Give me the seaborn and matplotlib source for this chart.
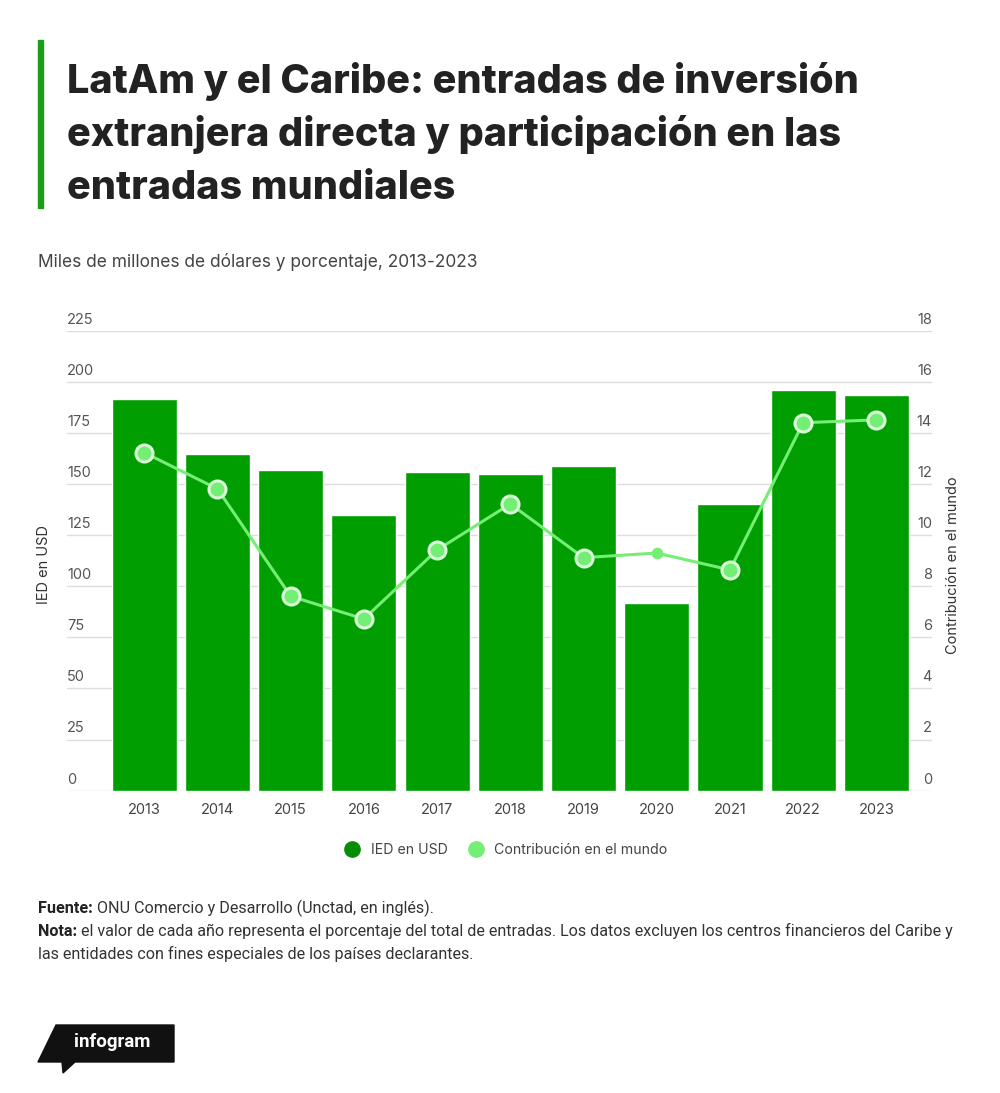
import matplotlib
matplotlib.use("Agg")
import matplotlib.pyplot as plt
import matplotlib.transforms as mtransforms
from matplotlib.patches import Polygon, Rectangle
from matplotlib.lines import Line2D
import seaborn as sns
import pandas as pd

# ---------------- data ----------------
years = ["2013", "2014", "2015", "2016", "2017", "2018", "2019", "2020", "2021", "2022", "2023"]
ied_usd = [191.6, 164.7, 156.7, 134.7, 156.1, 154.9, 158.7, 92.0, 140.3, 195.9, 193.4]
share_world = [13.23, 11.81, 7.61, 6.72, 9.42, 11.22, 9.12, 9.30, 8.64, 14.40, 14.51]
left_ticks = [0, 25, 50, 75, 100, 125, 150, 175, 200, 225]
right_ticks = [0, 2, 4, 6, 8, 10, 12, 14, 16, 18]
highlight_year = "2020"

title_lines = ["LatAm y el Caribe: entradas de inversión",
               "extranjera directa y participación en las",
               "entradas mundiales"]
subtitle = "Miles de millones de dólares y porcentaje, 2013-2023"
left_label = "IED en USD"
right_label = "Contribución en el mundo"
legend_labels = ["IED en USD", "Contribución en el mundo"]
source_bold = "Fuente:"
source_text = " ONU Comercio y Desarrollo (Unctad, en inglés)."
note_bold = "Nota:"
note_text1 = " el valor de cada año representa el porcentaje del total de entradas. Los datos excluyen los centros financieros del Caribe y"
note_text2 = "las entidades con fines especiales de los países declarantes."

# ---------------- style ----------------
BAR = "#009E00"
LINE = "#74EE74"
MEC = "#D9F9D9"
LEG_DARK = "#078C07"
GRID = "#DDDDDD"
TXT = "#222222"
TICK = "#555555"

sns.set_theme(style="white")
plt.rcParams["font.family"] = ["Inter", "DejaVu Sans"]

W, H = 1000, 1093
fig = plt.figure(figsize=(W / 100, H / 100), dpi=100)
fig.patch.set_facecolor("white")


def fx(px):
    return px / W


def fy(py):
    return 1 - py / H


df = pd.DataFrame({"year": years, "ied": ied_usd, "share": share_world})
df["pos"] = range(len(df))

ax = fig.add_axes([fx(67), fy(790.7), 865 / W, 460 / H])
ax.set_axisbelow(True)
sns.barplot(data=df, x="year", y="ied", color=BAR, saturation=1, width=0.89, ax=ax, zorder=2)
ax.set_xlim(-1.055, 10.76)
ax.set_ylim(0, 225)
ax.set_yticks(left_ticks)
ax.set_yticklabels([])
ax.yaxis.grid(True, color=GRID, lw=1)
ax.xaxis.grid(False)
ax.tick_params(axis="y", length=0)
ax.tick_params(axis="x", length=0, pad=9, labelsize=10.5, labelcolor="#444444")
ax.set_xlabel("")
ax.set_ylabel("")
for s in ax.spines.values():
    s.set_visible(False)

ax2 = ax.twinx()
sns.lineplot(data=df, x="pos", y="share", color=LINE, lw=2.2, ax=ax2, zorder=3)
main = df[df["year"] != highlight_year]
hl = df[df["year"] == highlight_year]
sns.scatterplot(data=main, x="pos", y="share", color=LINE, s=150, edgecolor=MEC,
                linewidth=2.2, ax=ax2, zorder=4)
sns.scatterplot(data=hl, x="pos", y="share", color=LINE, s=70, edgecolor=LINE,
                linewidth=0, ax=ax2, zorder=4)
ax2.set_ylim(0, 18)
ax2.set_xlim(-1.055, 10.76)
ax2.set_yticks(right_ticks)
ax2.set_yticklabels([])
ax2.tick_params(axis="y", length=0)
ax2.grid(False)
ax2.set_xlabel("")
ax2.set_ylabel("")
for s in ax2.spines.values():
    s.set_visible(False)

# tick labels sitting above the gridlines
tl = mtransforms.blended_transform_factory(ax.transAxes, ax.transData)
for v in left_ticks:
    ax.annotate(str(v), xy=(0, v), xycoords=tl, xytext=(0, 3), textcoords="offset points",
                ha="left", va="bottom", fontsize=10.5, color=TICK)
tr = mtransforms.blended_transform_factory(ax2.transAxes, ax2.transData)
for v in right_ticks:
    ax2.annotate(str(v), xy=(1, v), xycoords=tr, xytext=(0, 3), textcoords="offset points",
                 ha="right", va="bottom", fontsize=10.5, color=TICK)

fig.text(fx(44), fy(565), left_label, rotation=90, ha="center", va="center",
         fontsize=10.5, color="#333333")
fig.text(fx(953), fy(565), right_label, rotation=90, ha="center", va="center",
         fontsize=10.5, color="#333333")

# ---------------- title block ----------------
fig.patches.append(Rectangle((fx(38), fy(208)), 5 / W, 168 / H, transform=fig.transFigure,
                             color="#1A9E1A", zorder=5))
fig.canvas.draw()
r = fig.canvas.get_renderer()

t_objs = []
for i, line in enumerate(title_lines):
    t = fig.text(fx(67), fy(93 + 53 * i), line, ha="left", va="baseline",
                 fontsize=26, fontweight="heavy", color=TXT)
    t_objs.append(t)
w0 = t_objs[0].get_window_extent(r).width
fs_title = 26 * 790 / w0
for t in t_objs:
    t.set_fontsize(fs_title)

st = fig.text(fx(38), fy(267), subtitle, ha="left", va="baseline", fontsize=12, color="#444444")
ws = st.get_window_extent(r).width
st.set_fontsize(12 * 440 / ws)

# ---------------- legend ----------------
handles = [Line2D([], [], ls="", marker="o", ms=11, mfc=LEG_DARK, mec=LEG_DARK),
           Line2D([], [], ls="", marker="o", ms=11, mfc=LINE, mec=LINE)]
fig.legend(handles, legend_labels, loc="center", bbox_to_anchor=(0.503, fy(850)), ncol=2,
           frameon=False, fontsize=10.2, handletextpad=0.3, columnspacing=1.0,
           labelcolor="#444444")

# ---------------- footer ----------------
FOOT_FS = 10.5
FOOT_FAM = ["Roboto", "DejaVu Sans"]


def rich_line(x_px, y_px, bold, rest, fs):
    b = fig.text(fx(x_px), fy(y_px), bold, ha="left", va="baseline", fontsize=fs,
                 fontweight="bold", color="#222222", family=FOOT_FAM)
    bw = b.get_window_extent(r).width
    t = fig.text(fx(x_px + bw), fy(y_px), rest, ha="left", va="baseline", fontsize=fs,
                 color="#333333", family=FOOT_FAM)
    return b, t


# fit note line width to ~920 px
b, t = rich_line(38, 936, note_bold, note_text1, FOOT_FS)
total = b.get_window_extent(r).width + t.get_window_extent(r).width
fs_foot = FOOT_FS * 920 / total
b.remove()
t.remove()
rich_line(38, 913, source_bold, source_text, fs_foot)
rich_line(38, 936, note_bold, note_text1, fs_foot)
fig.text(fx(38), fy(959), note_text2, ha="left", va="baseline", fontsize=fs_foot,
         color="#333333", family=FOOT_FAM)

# ---------------- infogram logo ----------------
logo_px = [(56, 1025), (174, 1025), (174, 1062), (75, 1062), (63, 1073), (62, 1062), (38, 1062)]
fig.patches.append(Polygon([(fx(x), fy(y)) for x, y in logo_px], closed=True,
                           transform=fig.transFigure, color="#111111", zorder=5))
fig.text(fx(112), fy(1042), "infogram", ha="center", va="center", fontsize=13.5,
         fontweight="bold", color="white", family=["Roboto", "DejaVu Sans"], zorder=6)

fig.savefig("out.png", dpi=100, facecolor="white")
